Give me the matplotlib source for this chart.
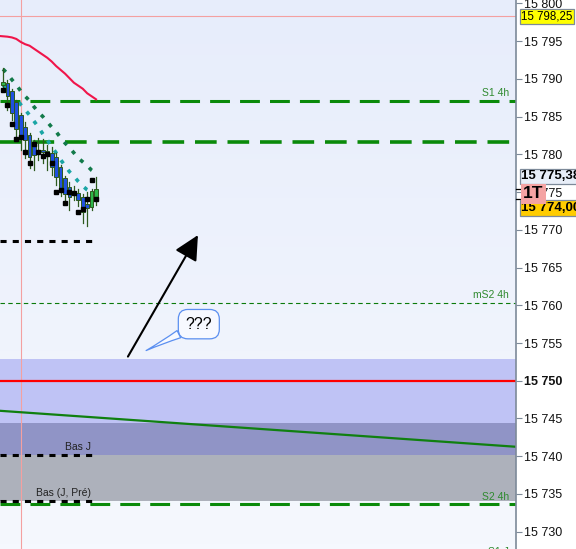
import numpy as np
import matplotlib
matplotlib.use("Agg")
import matplotlib.pyplot as plt
import matplotlib.transforms as mtransforms
from matplotlib.colors import LinearSegmentedColormap

plt.rcParams["font.family"] = ["Liberation Sans", "DejaVu Sans"]

# candles (index 0..21)
opens = [15789.2, 15789.5, 15788.4, 15786.9, 15785.2, 15783.6, 15782.6, 15781.1, 15780.6, 15780.6, 15780.4,
         15780.2, 15779.7, 15778.3, 15776.9, 15775.7, 15775.0, 15774.9, 15774.4, 15773.4, 15773.0, 15774.2]
highs = [15791.4, 15789.9, 15788.6, 15787.2, 15785.5, 15784.3, 15782.8, 15781.9, 15782.2, 15782.0, 15781.2,
         15781.0, 15780.2, 15778.6, 15777.2, 15776.4, 15775.8, 15775.4, 15774.8, 15775.0, 15775.4, 15777.0]
lows = [15788.5, 15785.9, 15784.6, 15782.4, 15780.6, 15779.5, 15778.2, 15777.9, 15779.3, 15778.9, 15777.9,
        15777.3, 15776.0, 15774.5, 15774.0, 15772.6, 15774.0, 15773.2, 15770.9, 15770.5, 15772.6, 15773.3]
closes = [15789.6, 15787.7, 15785.5, 15783.4, 15782.2, 15781.9, 15779.7, 15779.9, 15780.4, 15780.3, 15779.8,
          15778.3, 15777.0, 15775.6, 15774.8, 15774.4, 15774.9, 15774.0, 15772.4, 15772.9, 15775.2, 15775.4]

# red moving average
ma_x = [-1, 0, 1, 2, 3, 4, 5, 6, 7, 8, 9, 10, 11, 12, 13, 14, 15, 16, 17, 18, 19, 20, 21]
ma_y = [15795.7, 15795.65, 15795.6, 15795.5, 15795.3, 15794.9, 15794.6, 15794.4, 15794.0, 15793.6, 15793.2,
        15792.8, 15792.3, 15791.7, 15791.2, 15790.7, 15790.1, 15789.5, 15789.1, 15788.7, 15788.1, 15787.7, 15787.3]

# dotted bands
band_hi = [15791.3, 15790.7, 15789.9, 15789.2, 15788.4, 15787.7, 15787.1, 15786.3, 15785.6, 15785.0, 15784.3,
           15783.6, 15783.0, 15782.2, 15781.5, 15780.9, 15780.2, 15779.5, 15779.0, 15778.5, 15777.9, 15777.5]
band_lo = [15789.2, 15788.7, 15787.9, 15787.4, 15786.6, 15785.9, 15785.2, 15784.4, 15783.6, 15782.7, 15781.9,
           15781.0, 15780.2, 15779.3, 15778.5, 15777.7, 15777.1, 15776.4, 15775.8, 15775.3, 15775.0]

# black square markers
sq_x = [0, 1, 2, 3, 4, 5, 6, 7, 8, 9, 10, 11, 12, 13, 14, 15, 16, 17, 18, 19, 20, 21]
sq_y = [15788.5, 15786.6, 15784.0, 15782.1, 15782.3, 15780.3, 15778.9, 15781.4, 15780.3, 15779.8, 15780.1,
        15778.9, 15775.0, 15775.3, 15773.6, 15775.0, 15774.9, 15772.4, 15772.8, 15774.1, 15776.6, 15774.1]

# levels
level_top = 15798.3
s1_4h = 15787.1
level_2 = 15781.65
black_lvl = 15768.5
ms2_4h = 15760.3
red_lvl = 15750.0
bas_j = 15740.2
bas_jpre = 15734.1
s2_4h = 15733.6
zone_blue = (15744.4, 15752.9)
zone_mix = (15740.1, 15744.4)
zone_gray = (15734.0, 15740.1)
trend_x = [-1, 116]
trend_y = [15746.03, 15741.24]
vline_x = 4.06

XMIN, XMAX = -0.68, 115.8
YMIN, YMAX = 15727.7, 15800.46

fig = plt.figure(figsize=(5.76, 5.49), dpi=100)
fig.patch.set_facecolor("white")
ax = fig.add_axes([0, 0, 516 / 576, 1])
ax.set_xlim(XMIN, XMAX)
ax.set_ylim(YMIN, YMAX)

cmap = LinearSegmentedColormap.from_list("bg", ["#f5f8fe", "#e7edfb"])
ax.imshow(np.linspace(0, 1, 100).reshape(-1, 1), cmap=cmap, aspect="auto",
          extent=[XMIN, XMAX, YMAX, YMIN], zorder=0, origin="upper")
ax.set_ylim(YMIN, YMAX)

# zones
ax.axhspan(*zone_blue, color="#bfc3f5", lw=0, zorder=1)
ax.axhspan(*zone_mix, color="#9094c6", lw=0, zorder=1)
ax.axhspan(*zone_gray, color="#adb1bb", lw=0, zorder=1)

# lines
ax.axhline(level_top, color="#f4a0a0", lw=0.8, zorder=2)
ax.axvline(vline_x, color="#f4a0a0", lw=0.8, zorder=2)
ax.axhline(s1_4h, color="#0a8a0a", lw=2.2, dashes=(6.5, 3.3), zorder=2)
ax.axhline(level_2, color="#0a8a0a", lw=2.6, dashes=(6.0, 3.0), zorder=2)
ax.axhline(ms2_4h, color="#0a7a0a", lw=0.8, dashes=(4, 3), zorder=2)
ax.axhline(s2_4h, color="#0a8a0a", lw=2.2, dashes=(6.5, 3.3), zorder=2)
ax.axhline(red_lvl, color="#ff0000", lw=1.6, zorder=2)
ax.plot(trend_x, trend_y, color="#108010", lw=1.6, zorder=2)
for lvl in (black_lvl, bas_j, bas_jpre):
    ax.plot([XMIN, 20.3], [lvl, lvl], color="black", lw=2.2, dashes=(2, 2), zorder=3)

# level labels
tr = mtransforms.blended_transform_factory(ax.transAxes, ax.transData)
for lvl, txt in ((s1_4h, "S1 4h"), (ms2_4h, "mS2 4h"), (s2_4h, "S2 4h")):
    ax.text(0.986, lvl + 0.35, txt, transform=tr, ha="right", va="bottom",
            fontsize=7.5, color="#2f8a2f", zorder=4)
ax.text(0.986, 15727.9, "S1 J", transform=tr, ha="right", va="top",
        fontsize=7.5, color="#2f8a2f", zorder=4)
ax.text(19.9, bas_j + 0.35, "Bas J", ha="right", va="bottom", fontsize=7.5, color="#222222", zorder=4)
ax.text(19.9, bas_jpre + 0.35, "Bas (J, Pré)", ha="right", va="bottom", fontsize=7.5, color="#222222", zorder=4)

# red MA and dotted bands
ax.plot(ma_x, ma_y, color="#f0154a", lw=1.5, zorder=3)
ax.plot(range(len(band_hi)), band_hi, color="#127a4a", lw=2.6, dashes=(1.1, 2.2), zorder=3)
ax.plot(range(len(band_lo)), band_lo, color="#1aa5a5", lw=2.6, dashes=(1.1, 2.2), zorder=3)

# candles
for i, (o, h, l, c) in enumerate(zip(opens, highs, lows, closes)):
    ax.plot([i, i], [l, h], color="#2d5a1e", lw=0.9, zorder=4)
    fc = "#2eb84a" if c >= o else "#2050e0"
    ax.bar(i, abs(c - o) if abs(c - o) > 0.15 else 0.15, bottom=min(o, c), width=0.85,
           color=fc, edgecolor="#2d5a1e", lw=0.7, zorder=5)
ax.plot(sq_x, sq_y, "s", color="black", ms=3.3, zorder=6, lw=0)

# arrow and bubble
ax.annotate("", xy=(44.0, 15769.3), xytext=(28.2, 15753.2),
            arrowprops=dict(arrowstyle="-|>,head_length=1.0,head_width=0.5", color="black",
                            lw=1.5, mutation_scale=15, shrinkA=0, shrinkB=0), zorder=6)
ax.annotate("???", xy=(32.3, 15754.0), xytext=(44.2, 15757.5), ha="center", va="center",
            fontsize=11.5, color="black", zorder=7,
            bbox=dict(boxstyle="round,pad=0.45,rounding_size=0.6", fc="#f7f9ff", ec="#5b8ff0", lw=0.9),
            arrowprops=dict(arrowstyle="wedge,tail_width=0.5,shrink_factor=0.4", fc="#f7f9ff",
                            ec="#5b8ff0", lw=0.9, shrinkA=0, shrinkB=0))

# axis
for s in ("left", "top", "bottom"):
    ax.spines[s].set_visible(False)
ax.spines["right"].set_color("#7d8a99")
ax.spines["right"].set_linewidth(1.2)
ax.set_xticks([])
ticks = np.arange(15730, 15801, 5)
ax.yaxis.tick_right()
ax.set_yticks(ticks)
ax.set_yticklabels([f"{t:,.0f}".replace(",", " ") for t in ticks])
ax.tick_params(axis="y", direction="out", length=4, width=0.8, color="#7d8a99",
               pad=2, labelsize=9, labelcolor="#111111")
for lab in ax.get_yticklabels():
    if lab.get_text() == "15 750":
        lab.set_fontweight("bold")

# price boxes on the axis
ax.text(1.01, level_top, "15 798,25", transform=tr, ha="left", va="center", fontsize=8.3,
        clip_on=False, zorder=10,
        bbox=dict(boxstyle="square,pad=0.12", fc="#ffff00", ec="#7d8a99", lw=0.9))
ax.text(1.01, 15777.1, "15 775,38", transform=tr, ha="left", va="center", fontsize=9.5,
        fontweight="bold", clip_on=False, zorder=10,
        bbox=dict(boxstyle="square,pad=0.12", fc="#e8eef8", ec="#7d8a99", lw=0.9))
ax.text(1.01, 15772.9, "15 774,00", transform=tr, ha="left", va="center", fontsize=9.5,
        fontweight="bold", clip_on=False, zorder=10,
        bbox=dict(boxstyle="square,pad=0.12", fc="#ffcc00", ec="#7d8a99", lw=0.9))
ax.text(1.014, 15774.8, "1T", transform=tr, ha="left", va="center", fontsize=12.5,
        fontweight="bold", clip_on=False, zorder=11,
        bbox=dict(boxstyle="square,pad=0.15", fc="#f4a3a3", ec="none"))
for p in (closes[-1], 15774.1):
    ax.plot([1.0, 1.012], [p, p], transform=tr, color="black", lw=0.9, clip_on=False, zorder=9)

fig.savefig("out.png", dpi=100)
